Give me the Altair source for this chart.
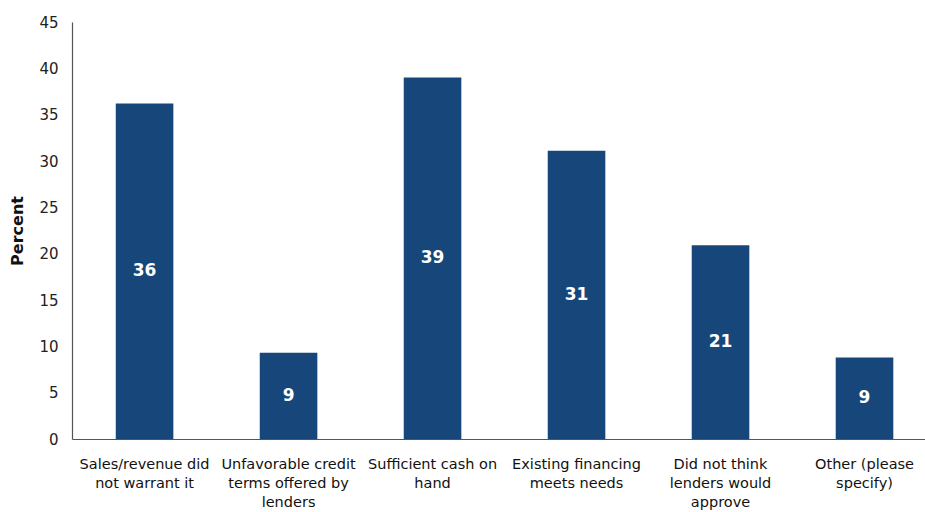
import altair as alt
import pandas as pd

# Reasons for not applying for financing (share of respondents)
categories = [
    "Sales/revenue did\nnot warrant it",
    "Unfavorable credit\nterms offered by\nlenders",
    "Sufficient cash on\nhand",
    "Existing financing\nmeets needs",
    "Did not think\nlenders would\napprove",
    "Other  (please\nspecify)",
]
values = [36.2, 9.3, 39.0, 31.1, 20.9, 8.8]

df = pd.DataFrame({"reason": categories, "percent": values})
df["mid"] = df["percent"] / 2

FONT = "DejaVu Sans"
BAR = "#17477a"

x = alt.X(
    "reason:N",
    sort=categories,
    scale=alt.Scale(paddingInner=0.6, paddingOuter=0.262, align=0.58),
    axis=alt.Axis(
        title=None,
        labelAngle=0,
        labelExpr="split(datum.value, '\\n')",
        labelFont=FONT,
        labelFontSize=14.5,
        labelColor="#111111",
        labelLineHeight=19,
        labelPadding=18,
        labelBaseline="top",
        ticks=False,
        domainColor="#555555",
        domainWidth=1.2,
        labelLimit=200,
    ),
)

bars = alt.Chart(df).mark_bar(color=BAR).encode(
    x=x,
    y=alt.Y(
        "percent:Q",
        scale=alt.Scale(domain=[0, 45], nice=False),
        axis=alt.Axis(
            title="Percent",
            titleFont=FONT,
            titleFontSize=16,
            titleFontWeight="bold",
            titleColor="#111111",
            titlePadding=13,
            values=list(range(0, 50, 5)),
            labelFont=FONT,
            labelFontSize=15,
            labelColor="#222222",
            labelPadding=14,
            ticks=False,
            grid=False,
            domainColor="#555555",
            domainWidth=1.2,
        ),
    ),
)

labels = alt.Chart(df).mark_text(
    color="white", font=FONT, fontSize=17, fontWeight="bold", baseline="middle"
).encode(
    x=alt.X("reason:N", sort=categories),
    y=alt.Y("mid:Q"),
    text=alt.Text("percent:Q", format=".0f"),
)

chart = (
    alt.layer(bars, labels)
    .properties(
        width=853,
        height=417,
        autosize=alt.AutoSizeParams(type="none"),
        padding={"left": 72, "top": 22, "right": 0, "bottom": 73},
        background="white",
    )
    .configure_view(stroke=None)
)

chart.save("out.html", embed_options={"renderer": "svg", "actions": False})
